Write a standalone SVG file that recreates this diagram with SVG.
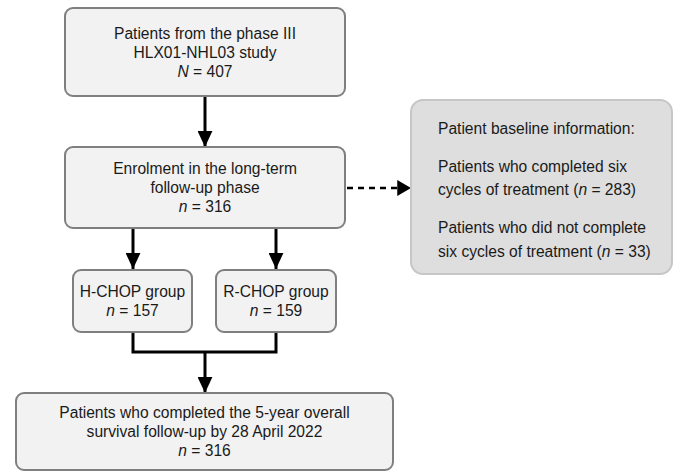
<svg xmlns="http://www.w3.org/2000/svg" width="685" height="476" viewBox="0 0 685 476">
<style>
.box{fill:#f2f2f2;stroke:#7f7f7f;stroke-width:2}
.info{fill:#dedede;stroke:#c6c6c6;stroke-width:2}
text{font-family:"Liberation Sans",Arial,sans-serif;font-size:15.6px;fill:#1a1a1a}
.c{text-anchor:middle}
.conn{fill:none;stroke:#000;stroke-width:3}
.dash{fill:none;stroke:#000;stroke-width:2.5;stroke-dasharray:6 5}
</style>
<defs>
<marker id="ah" markerWidth="5.4" markerHeight="5" refX="5.4" refY="2.5" orient="auto" markerUnits="strokeWidth">
<path d="M0,0 L5.4,2.5 L0,5 Z" fill="#000"/>
</marker>
<marker id="ah2" markerWidth="5.5" markerHeight="6.4" refX="5.5" refY="3.2" orient="auto" markerUnits="strokeWidth">
<path d="M0,0 L5.5,3.2 L0,6.4 Z" fill="#000"/>
</marker>
</defs>
<g id="connectors">
<path class="conn" d="M205,96 V147" marker-end="url(#ah)"/>
<path class="conn" d="M133,228 V269" marker-end="url(#ah)"/>
<path class="conn" d="M276,228 V269" marker-end="url(#ah)"/>
<path class="conn" d="M133,332 V352 H276 V332"/>
<path class="conn" d="M205,352 V393" marker-end="url(#ah)"/>
<path class="dash" d="M347,188 H411" marker-end="url(#ah2)"/>
</g>
<g id="n1">
<rect class="box" x="65" y="8" width="280" height="88" rx="8"/>
<text class="c" x="205" y="39">Patients from the phase III</text>
<text class="c" x="205" y="58">HLX01-NHL03 study</text>
<text class="c" x="205" y="77"><tspan font-style="italic">N</tspan> = 407</text>
</g>
<g id="n2">
<rect class="box" x="65" y="147" width="280" height="81" rx="8"/>
<text class="c" x="205" y="174">Enrolment in the long-term</text>
<text class="c" x="205" y="193">follow-up phase</text>
<text class="c" x="205" y="212"><tspan font-style="italic">n</tspan> = 316</text>
</g>
<g id="n3">
<rect class="box" x="73" y="270" width="119" height="62" rx="8"/>
<text class="c" x="132.5" y="297">H-CHOP group</text>
<text class="c" x="132.5" y="316"><tspan font-style="italic">n</tspan> = 157</text>
</g>
<g id="n4">
<rect class="box" x="216" y="270" width="120" height="62" rx="8"/>
<text class="c" x="276" y="297">R-CHOP group</text>
<text class="c" x="276" y="316"><tspan font-style="italic">n</tspan> = 159</text>
</g>
<g id="n5">
<rect class="box" x="16" y="393" width="377" height="77" rx="8"/>
<text class="c" x="204.5" y="418">Patients who completed the 5-year overall</text>
<text class="c" x="204.5" y="437">survival follow-up by 28 April 2022</text>
<text class="c" x="204.5" y="456"><tspan font-style="italic">n</tspan> = 316</text>
</g>
<g id="n6">
<rect class="info" x="411" y="100" width="261" height="174" rx="12"/>
<text x="438" y="134">Patient baseline information:</text>
<text x="438" y="172">Patients who completed six</text>
<text x="438" y="195">cycles of treatment (<tspan font-style="italic">n</tspan> = 283)</text>
<text x="438" y="233">Patients who did not complete</text>
<text x="438" y="257">six cycles of treatment (<tspan font-style="italic">n</tspan> = 33)</text>
</g>
</svg>
